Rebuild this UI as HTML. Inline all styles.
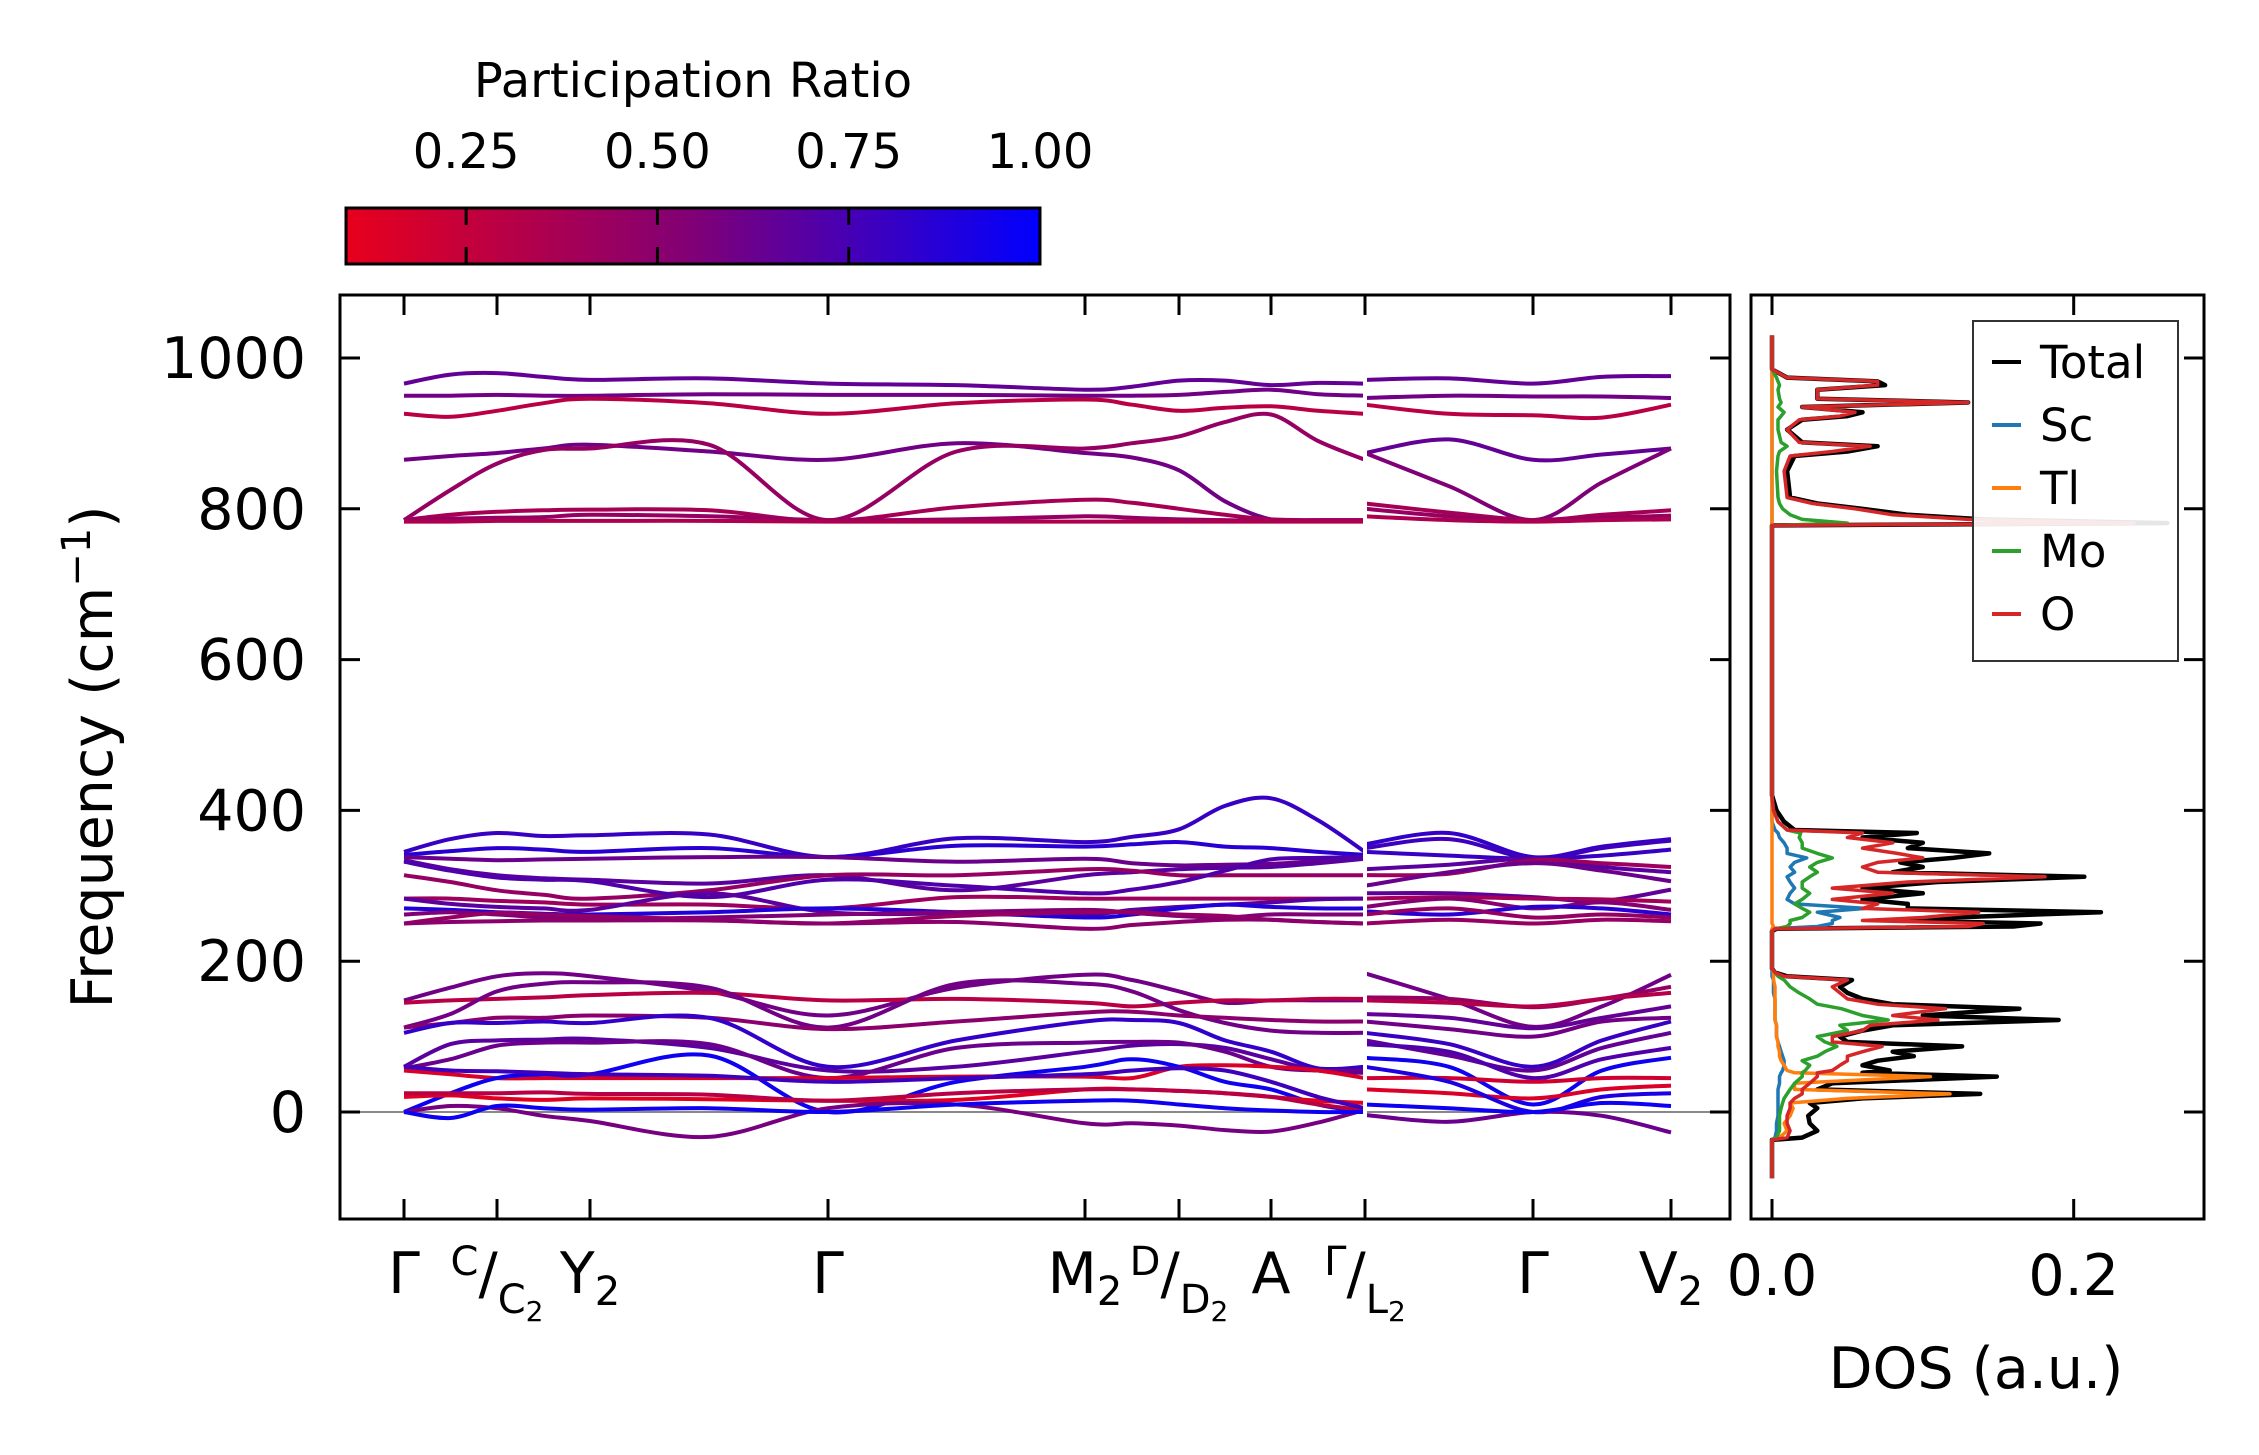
<!DOCTYPE html>
<html><head><meta charset="utf-8"><style>
html,body{margin:0;padding:0;background:#fff;}
svg{display:block;font-family:"DejaVu Sans","Liberation Sans",sans-serif;}
</style></head><body>
<svg id="fig" width="2259" height="1455" viewBox="0 0 2259 1455" xmlns="http://www.w3.org/2000/svg">
<defs>
<linearGradient id="cbgrad" x1="0" y1="0" x2="1" y2="0">
<stop offset="0" stop-color="rgb(232,0,28)"/>
<stop offset="0.5" stop-color="rgb(128,0,118)"/>
<stop offset="1" stop-color="rgb(0,0,255)"/>
</linearGradient>
<clipPath id="mainclip"><rect x="340" y="295" width="1390" height="924"/></clipPath>
<clipPath id="dosclip"><rect x="1751" y="295" width="453" height="924"/></clipPath>
</defs>
<g id="colorbar">
<text x="693" y="97" font-size="48" text-anchor="middle">Participation Ratio</text>
<rect x="346" y="208" width="694" height="56" fill="url(#cbgrad)" stroke="#000" stroke-width="3"/>
</g>
<g id="main"></g>
<g id="dos"></g>
</svg>
<script>
// ---------- colour bar ----------
const cbTicks = [0.25, 0.5, 0.75, 1.0];
const cbLabels = ["0.25", "0.50", "0.75", "1.00"];
const cbMin = 0.093, cbMax = 1.0;

// ---------- band structure data ----------
const kNodes = [0, 0.093, 0.186, 0.424, 0.681, 0.775, 0.867, 0.961, 1.129, 1.267];
const kLabels = [["Γ"], ["C","C","2"], ["Y","2"], ["Γ"], ["M","2"], ["D","D","2"], ["A"], ["Γ","L","2"], ["Γ"], ["V","2"]];
const yTicks = [0, 200, 400, 600, 800, 1000];
const seg1Nodes = [0, 1, 2, 3, 4, 5, 6, 7];
const seg2Nodes = [7, 8, 9];

const seg1Bands = [
 [966,978,980,975,971,973,966,964,958,962,970,970,964,967,966],
 [950,950,951,950,950,952,951,951,950,950,951,955,958,952,950],
 [926,922,930,940,946,940,926,940,945,938,930,934,936,930,926],
 [865,870,874,880,885,876,865,887,874,868,851,810,786,785,785],
 [785,825,860,878,880,885,785,876,880,887,896,915,925,890,865],
 [785,792,796,798,799,798,784,802,812,808,800,792,786,785,785],
 [785,787,788,789,792,790,785,786,790,788,786,785,784,784,784],
 [783,783,784,784,784,784,783,783,783,783,783,783,783,783,783],
 [345,362,370,366,367,368,338,363,358,365,375,406,416,387,345],
 [341,346,350,348,345,350,338,353,352,355,358,352,350,345,341],
 [338,336,334,335,336,338,338,332,336,330,327,328,329,333,338],
 [334,322,314,310,308,303,314,294,314,318,322,324,325,330,336],
 [314,305,294,288,283,294,314,314,322,320,314,314,314,314,314],
 [332,320,311,308,306,285,308,300,290,295,305,320,335,337,338],
 [283,283,280,278,275,275,270,285,283,283,283,283,283,283,283],
 [283,276,272,270,268,290,265,263,262,268,272,275,278,282,283],
 [270,268,265,263,262,265,270,265,258,262,270,275,272,270,270],
 [262,265,262,258,256,258,262,265,268,264,260,258,262,262,262],
 [250,258,264,262,260,255,250,260,265,265,262,260,255,252,250],
 [250,252,253,254,254,254,250,252,243,248,252,255,255,252,250],
 [148,165,180,184,180,160,128,165,182,175,160,145,148,148,148],
 [145,148,150,152,155,158,148,150,145,140,145,148,148,150,150],
 [112,130,160,170,172,165,112,170,170,160,135,118,108,105,105],
 [112,118,125,125,128,125,110,120,132,133,128,125,122,120,120],
 [105,118,118,120,118,125,60,95,120,122,118,95,80,58,60],
 [60,90,95,96,97,85,55,60,80,88,90,85,70,55,52],
 [58,70,88,92,92,90,45,85,92,93,92,80,60,55,55],
 [55,50,45,45,45,45,45,47,47,45,60,62,60,55,45],
 [0,25,45,50,50,75,0,40,60,70,60,40,30,10,0],
 [20,22,18,16,18,17,15,16,30,30,28,25,20,15,12],
 [25,25,25,26,24,23,15,25,30,30,28,25,20,10,2],
 [0,8,5,-5,-12,-33,5,10,-15,-15,-18,-24,-26,-14,3],
 [0,-8,8,5,3,5,0,10,15,15,10,5,2,0,0],
 [60,55,54,52,50,48,40,45,50,55,58,55,40,20,5]
];
const seg1PR = [0.65,0.6,0.3,0.6,0.45,0.38,0.45,0.35,0.8,0.85,0.62,0.68,0.45,0.72,0.42,0.68,0.88,0.55,0.45,0.5,0.6,0.3,0.6,0.5,0.82,0.68,0.62,0.15,0.95,0.12,0.3,0.58,0.95,0.78];

const seg2Bands = [
 [971,973,966,975,976],
 [947,950,949,949,947],
 [938,926,924,921,938],
 [874,892,865,872,880],
 [874,830,785,835,880],
 [807,795,785,792,798],
 [800,790,784,788,791],
 [790,785,783,785,786],
 [355,370,338,352,362],
 [350,362,336,350,360],
 [345,340,336,340,348],
 [322,328,336,325,318],
 [314,316,334,330,325],
 [300,318,330,320,306],
 [290,290,285,280,295],
 [283,285,283,282,279],
 [272,283,270,278,268],
 [266,262,272,270,262],
 [262,270,258,262,258],
 [250,255,250,255,253],
 [184,150,113,140,182],
 [152,150,139,150,166],
 [148,145,140,150,158],
 [130,125,111,125,140],
 [120,110,100,120,125],
 [105,90,60,95,120],
 [95,75,55,85,105],
 [90,80,45,70,85],
 [72,60,10,55,72],
 [45,45,40,45,45],
 [30,25,18,30,35],
 [60,40,0,20,25],
 [-4,-13,0,-5,-27],
 [10,5,0,12,8]
];
const seg2PR = [0.65,0.6,0.3,0.65,0.55,0.38,0.45,0.35,0.82,0.78,0.8,0.68,0.42,0.62,0.66,0.4,0.52,0.85,0.45,0.45,0.6,0.45,0.32,0.65,0.6,0.8,0.65,0.72,0.95,0.2,0.15,0.9,0.62,0.95];

// ---------- DOS data ----------
const dosFreq = [-88,-37,-34,-25,-15,-5,5,12,18,24,30,38,47,52,55,62,68,74,80,87,93,100,108,115,122,128,137,143,150,158,166,175,180,185,190,240,243,246,250,254,258,265,270,276,282,290,297,305,312,318,325,331,337,343,350,357,364,370,374,385,400,420,778,781,786,792,800,807,815,850,870,876,883,888,905,918,923,928,935,941,946,958,964,969,974,985,1030];
const dosTotal = [0,0,.02,.03,.025,.024,.03,.025,.06,.138,.03,.04,.149,.06,.078,.06,.07,.094,.08,.126,.05,.045,.06,.08,.19,.10,.164,.08,.06,.05,.045,.053,.01,.002,0,0,.003,.16,.178,.08,.12,.218,.09,.09,.06,.10,.06,.11,.207,.08,.10,.085,.12,.144,.09,.10,.06,.096,.015,.008,.003,0,0,.262,.14,.09,.06,.03,.012,.01,.015,.05,.07,.02,.01,.02,.05,.06,.02,.13,.03,.03,.075,.07,.01,0,0];
const dosSc = [0,0,.002,.003,.003,.004,.004,.004,.004,.004,.004,.005,.005,.006,.007,.008,.008,.007,.006,.005,.004,.003,.003,.003,.002,.002,.002,.002,.002,.001,.001,.001,0,0,0,0,.001,.03,.04,.04,.045,.03,.062,.015,.01,.012,.015,.012,.01,.015,.012,.015,.023,.01,.01,.008,.005,.004,.002,0,0,0,0,0,0,0,0,0,0,0,0,0,0,0,0,0,0,0,0,0,0,0,0,0,0,0,0];
const dosTl = [0,0,.005,.01,.008,.012,.014,.012,.05,.118,.015,.015,.105,.015,.01,.008,.006,.005,.005,.004,.004,.003,.003,.003,.002,.002,.002,.002,.002,.002,.002,.001,.001,.001,0,0,0,.001,0,0,0,0,0,0,0,0,0,0,0,0,0,0,0,0,0,0,0,0,0,0,0,0,0,0,0,0,0,0,0,0,0,0,0,0,0,0,0,0,0,0,0,0,0,0,0,0,0];
const dosMo = [0,0,.003,.005,.005,.005,.006,.007,.008,.01,.012,.015,.02,.02,.022,.025,.02,.03,.035,.043,.035,.03,.05,.045,.077,.06,.046,.03,.025,.018,.012,.008,.004,.002,0,0,.002,.01,.012,.012,.02,.025,.02,.015,.02,.025,.02,.02,.025,.03,.025,.03,.04,.03,.02,.02,.018,.019,.01,.004,.001,0,0,.05,.02,.012,.007,.005,.004,.003,.004,.005,.01,.006,.004,.004,.006,.008,.004,.006,.005,.004,.005,.004,.003,0,0];
const dosO = [0,0,.01,.012,.01,.01,.012,.012,.015,.02,.02,.025,.03,.03,.04,.045,.05,.05,.06,.073,.04,.04,.06,.065,.11,.08,.115,.07,.05,.045,.04,.05,.008,.002,0,0,.002,.13,.14,.06,.1,.137,.06,.07,.04,.08,.04,.09,.181,.07,.06,.07,.1,.083,.06,.08,.05,.06,.01,.004,.001,0,0,.24,.13,.08,.055,.027,.01,.008,.012,.04,.065,.018,.01,.018,.045,.055,.02,.13,.03,.03,.07,.07,.01,0,0];
const dosXTicks = [0.0, 0.2];
const dosXLabels = ["0.0", "0.2"];
const legendNames = ["Total", "Sc", "Tl", "Mo", "O"];
const legendColors = ["#000000", "#1f77b4", "#ff7f0e", "#2ca02c", "#d62728"];

// ---------- scales ----------
const NS = "http://www.w3.org/2000/svg";
const main = document.getElementById('main');
const dos = document.getElementById('dos');
const cbar = document.getElementById('colorbar');
const AX = {l:340, r:1730, t:295, b:1219};
const DX = {l:1751, r:2204};
function yScale(f){ return 1112 - 0.754 * f; }
function xScale(k){ return 404 + (k / kNodes[kNodes.length-1]) * (1671 - 404); }
function dScale(d){ return 1772 + d * 1508.5; }
function cbScale(v){ return 346 + (v - cbMin) / (cbMax - cbMin) * 694; }
function prColor(p){
  const t = Math.max(0, Math.min(1, (p - cbMin) / (cbMax - cbMin)));
  let r,g,b;
  if (t < 0.5){ const u=t/0.5; r=232+(128-232)*u; g=0; b=28+(118-28)*u; }
  else { const u=(t-0.5)/0.5; r=128-128*u; g=0; b=118+(255-118)*u; }
  return `rgb(${Math.round(r)},${Math.round(g)},${Math.round(b)})`;
}
function mk(tag, attrs, parent){
  const e = document.createElementNS(NS, tag);
  for (const a in attrs) e.setAttribute(a, attrs[a]);
  parent.appendChild(e);
  return e;
}
function sampleKs(nodeIdx){
  const ks = [];
  for (let i=0;i<nodeIdx.length;i++){
    ks.push(kNodes[nodeIdx[i]]);
    if (i < nodeIdx.length-1) ks.push((kNodes[nodeIdx[i]] + kNodes[nodeIdx[i+1]]) / 2);
  }
  return ks;
}
function splinePath(pts){
  let d = `M${pts[0][0].toFixed(1)},${pts[0][1].toFixed(1)}`;
  for (let i=0;i<pts.length-1;i++){
    const p0 = pts[Math.max(0,i-1)], p1 = pts[i], p2 = pts[i+1], p3 = pts[Math.min(pts.length-1,i+2)];
    const c1x = p1[0] + (p2[0]-p0[0])/6, c1y = p1[1] + (p2[1]-p0[1])/6;
    const c2x = p2[0] - (p3[0]-p1[0])/6, c2y = p2[1] - (p3[1]-p1[1])/6;
    d += ` C${c1x.toFixed(1)},${c1y.toFixed(1)} ${c2x.toFixed(1)},${c2y.toFixed(1)} ${p2[0].toFixed(1)},${p2[1].toFixed(1)}`;
  }
  return d;
}

// ---------- colour bar ticks ----------
cbTicks.forEach((v,i)=>{
  const x = cbScale(v);
  if (v < 1.0){
    const t1 = mk('line',{x1:x,x2:x,y1:208,y2:225,stroke:'#000','stroke-width':3},cbar);
    
    
    const t2 = mk('line',{x1:x,x2:x,y1:247,y2:264,stroke:'#000','stroke-width':3},cbar);
    
    
  }
  const tx = mk('text',{x:x,y:168,'font-size':48,'text-anchor':'middle'},cbar);
  tx.textContent = cbLabels[i];
  
  
});

// ---------- main axes ----------
const bandsG = mk('g',{'clip-path':'url(#mainclip)'},main);


const zl = mk('line',{x1:AX.l,x2:AX.r,y1:yScale(0),y2:yScale(0),stroke:'#888','stroke-width':2},bandsG);


function drawSeg(bands, prs, nodeIdx, name){
  const ks = sampleKs(nodeIdx);
  bands.forEach((vals,bi)=>{
    const pts = vals.map((f,i)=>[xScale(ks[i]), yScale(f)]);
    const p = mk('path',{d:splinePath(pts),fill:'none',stroke:prColor(prs[bi]),'stroke-width':4,'stroke-linejoin':'round'},bandsG);
    
    
  });
}
drawSeg(seg1Bands, seg1PR, seg1Nodes, 'segment1');
drawSeg(seg2Bands, seg2PR, seg2Nodes, 'segment2');
const gap = mk('rect',{x:xScale(kNodes[7])-2,y:AX.t+2,width:4,height:AX.b-AX.t-4,fill:'#fff'},main);



const frame = mk('rect',{x:AX.l,y:AX.t,width:AX.r-AX.l,height:AX.b-AX.t,fill:'none',stroke:'#000','stroke-width':3},main);


yTicks.forEach(v=>{
  const y = yScale(v);
  const a = mk('line',{x1:AX.l,x2:AX.l+20,y1:y,y2:y,stroke:'#000','stroke-width':3},main);
  
  
  const b = mk('line',{x1:AX.r-20,x2:AX.r,y1:y,y2:y,stroke:'#000','stroke-width':3},main);
  
  
  const t = mk('text',{x:306,y:y+20,'font-size':57,'text-anchor':'end'},main);
  t.textContent = String(v);
  
  
  const c = mk('line',{x1:DX.r-20,x2:DX.r,y1:y,y2:y,stroke:'#000','stroke-width':3},dos);
  
  
});
kNodes.forEach((k,i)=>{
  const x = xScale(k);
  const a = mk('line',{x1:x,x2:x,y1:AX.b-20,y2:AX.b,stroke:'#000','stroke-width':3},main);
  
  
  const b = mk('line',{x1:x,x2:x,y1:AX.t,y2:AX.t+20,stroke:'#000','stroke-width':3},main);
  
  
  const lab = kLabels[i];
  const t = mk('text',{x:x,y:1293,'font-size':57,'text-anchor':'middle'},main);
  
  
  if (lab.length === 1){
    t.textContent = lab[0];
  } else if (lab.length === 2){
    const s1 = mk('tspan',{},t); s1.textContent = lab[0];
    const s2 = mk('tspan',{'font-size':40,dy:12},t); s2.textContent = lab[1];
  } else {
    const s1 = mk('tspan',{'font-size':40,dy:-18},t); s1.textContent = lab[0];
    const s2 = mk('tspan',{'font-size':57,dy:18},t); s2.textContent = '/';
    const s3 = mk('tspan',{'font-size':40,dy:20},t); s3.textContent = lab[1];
    const s4 = mk('tspan',{'font-size':28,dy:8},t); s4.textContent = lab[2];
  }
});
const ylab = mk('text',{x:0,y:0,'font-size':57,'text-anchor':'middle',transform:'translate(112,757) rotate(-90)'},main);


const yl1 = mk('tspan',{},ylab); yl1.textContent = 'Frequency (cm';
const yl2 = mk('tspan',{'font-size':40,dy:-22},ylab); yl2.textContent = '−1';
const yl3 = mk('tspan',{dy:22},ylab); yl3.textContent = ')';

// ---------- DOS ----------
const dosG = mk('g',{'clip-path':'url(#dosclip)'},dos);


const dosSeries = [dosTotal, dosSc, dosTl, dosMo, dosO];
dosSeries.forEach((arr,si)=>{
  const pts = arr.map((d,i)=>`${dScale(d).toFixed(1)},${yScale(dosFreq[i]).toFixed(1)}`).join(' ');
  const pl = mk('polyline',{points:pts,fill:'none',stroke:legendColors[si],'stroke-width':si===0?4.5:3.5,'stroke-linejoin':'round'},dosG);
  
  
});
const dframe = mk('rect',{x:DX.l,y:AX.t,width:DX.r-DX.l,height:AX.b-AX.t,fill:'none',stroke:'#000','stroke-width':3},dos);


dosXTicks.forEach((v,i)=>{
  const x = dScale(v);
  const a = mk('line',{x1:x,x2:x,y1:AX.b-20,y2:AX.b,stroke:'#000','stroke-width':3},dos);
  
  
  const b = mk('line',{x1:x,x2:x,y1:AX.t,y2:AX.t+20,stroke:'#000','stroke-width':3},dos);
  
  
  const t = mk('text',{x:x,y:1295,'font-size':57,'text-anchor':'middle'},dos);
  t.textContent = dosXLabels[i];
  
  
});
const dlab = mk('text',{x:1976,y:1388,'font-size':57,'text-anchor':'middle'},dos);
dlab.textContent = 'DOS (a.u.)';



// legend
const leg = mk('g',{},dos);


const lbox = mk('rect',{x:1973,y:321,width:205,height:340,fill:'#fff','fill-opacity':0.9,stroke:'#333','stroke-width':2},leg);


legendNames.forEach((n,i)=>{
  const y = 362 + i*63;
  const ln = mk('line',{x1:1992,x2:2021,y1:y,y2:y,stroke:legendColors[i],'stroke-width':4},leg);
  
  
  const t = mk('text',{x:2040,y:y+16,'font-size':45},leg);
  t.textContent = n;
  
  
});
</script>
</body></html>
